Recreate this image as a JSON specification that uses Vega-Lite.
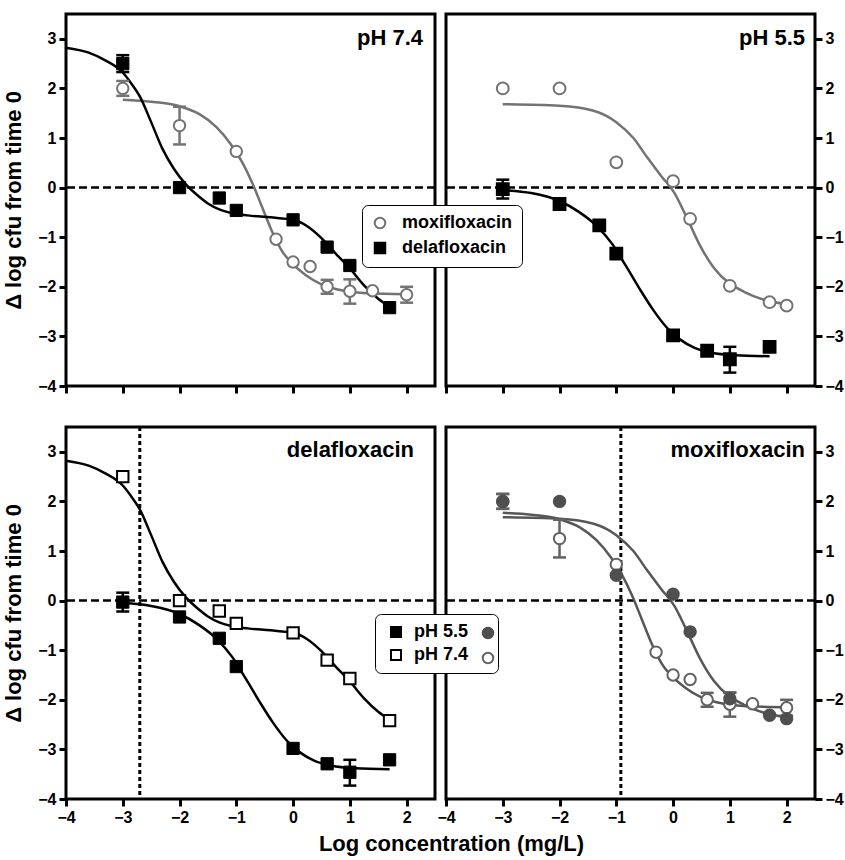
{
"$schema": "https://vega.github.io/schema/vega-lite/v6.json",
"background": "white",
"padding": {"left": 1, "top": 12, "right": 4, "bottom": 4},
"datasets": {
"obs": [
{"drug":"moxifloxacin","ph":"pH 7.4","x":-3,"y":2.0,"lo":1.85,"hi":2.15},
{"drug":"moxifloxacin","ph":"pH 7.4","x":-2,"y":1.25,"lo":0.87,"hi":1.63},
{"drug":"moxifloxacin","ph":"pH 7.4","x":-1,"y":0.73},
{"drug":"moxifloxacin","ph":"pH 7.4","x":-0.3,"y":-1.04},
{"drug":"moxifloxacin","ph":"pH 7.4","x":0,"y":-1.5},
{"drug":"moxifloxacin","ph":"pH 7.4","x":0.3,"y":-1.59},
{"drug":"moxifloxacin","ph":"pH 7.4","x":0.6,"y":-2.0,"lo":-2.14,"hi":-1.86},
{"drug":"moxifloxacin","ph":"pH 7.4","x":1,"y":-2.09,"lo":-2.34,"hi":-1.85},
{"drug":"moxifloxacin","ph":"pH 7.4","x":1.4,"y":-2.08},
{"drug":"moxifloxacin","ph":"pH 7.4","x":2,"y":-2.16,"lo":-2.32,"hi":-2.0},
{"drug":"moxifloxacin","ph":"pH 5.5","x":-3,"y":2.0,"lo":1.85,"hi":2.15},
{"drug":"moxifloxacin","ph":"pH 5.5","x":-2,"y":2.0},
{"drug":"moxifloxacin","ph":"pH 5.5","x":-1,"y":0.51},
{"drug":"moxifloxacin","ph":"pH 5.5","x":0,"y":0.13},
{"drug":"moxifloxacin","ph":"pH 5.5","x":0.3,"y":-0.63},
{"drug":"moxifloxacin","ph":"pH 5.5","x":1,"y":-1.98,"lo":-2.1,"hi":-1.86},
{"drug":"moxifloxacin","ph":"pH 5.5","x":1.7,"y":-2.31},
{"drug":"moxifloxacin","ph":"pH 5.5","x":2,"y":-2.38},
{"drug":"delafloxacin","ph":"pH 7.4","x":-3,"y":2.5,"lo":2.33,"hi":2.67},
{"drug":"delafloxacin","ph":"pH 7.4","x":-2,"y":0.0},
{"drug":"delafloxacin","ph":"pH 7.4","x":-1.3,"y":-0.21},
{"drug":"delafloxacin","ph":"pH 7.4","x":-1,"y":-0.46},
{"drug":"delafloxacin","ph":"pH 7.4","x":0,"y":-0.65},
{"drug":"delafloxacin","ph":"pH 7.4","x":0.6,"y":-1.2},
{"drug":"delafloxacin","ph":"pH 7.4","x":1,"y":-1.57},
{"drug":"delafloxacin","ph":"pH 7.4","x":1.7,"y":-2.42},
{"drug":"delafloxacin","ph":"pH 5.5","x":-3,"y":-0.03,"lo":-0.22,"hi":0.16},
{"drug":"delafloxacin","ph":"pH 5.5","x":-2,"y":-0.33},
{"drug":"delafloxacin","ph":"pH 5.5","x":-1.3,"y":-0.76},
{"drug":"delafloxacin","ph":"pH 5.5","x":-1,"y":-1.33},
{"drug":"delafloxacin","ph":"pH 5.5","x":0,"y":-2.98},
{"drug":"delafloxacin","ph":"pH 5.5","x":0.6,"y":-3.29},
{"drug":"delafloxacin","ph":"pH 5.5","x":1,"y":-3.46,"lo":-3.73,"hi":-3.21},
{"drug":"delafloxacin","ph":"pH 5.5","x":1.7,"y":-3.21}
],
"fits": [
{"drug":"delafloxacin","ph":"pH 7.4","x":-4,"y":2.82},
{"drug":"delafloxacin","ph":"pH 7.4","x":-3.6,"y":2.72},
{"drug":"delafloxacin","ph":"pH 7.4","x":-3.3,"y":2.56},
{"drug":"delafloxacin","ph":"pH 7.4","x":-3.0,"y":2.32},
{"drug":"delafloxacin","ph":"pH 7.4","x":-2.85,"y":2.1},
{"drug":"delafloxacin","ph":"pH 7.4","x":-2.7,"y":1.84},
{"drug":"delafloxacin","ph":"pH 7.4","x":-2.5,"y":1.32},
{"drug":"delafloxacin","ph":"pH 7.4","x":-2.3,"y":0.78},
{"drug":"delafloxacin","ph":"pH 7.4","x":-2.1,"y":0.38},
{"drug":"delafloxacin","ph":"pH 7.4","x":-1.9,"y":0.08},
{"drug":"delafloxacin","ph":"pH 7.4","x":-1.7,"y":-0.14},
{"drug":"delafloxacin","ph":"pH 7.4","x":-1.5,"y":-0.32},
{"drug":"delafloxacin","ph":"pH 7.4","x":-1.3,"y":-0.44},
{"drug":"delafloxacin","ph":"pH 7.4","x":-1.1,"y":-0.51},
{"drug":"delafloxacin","ph":"pH 7.4","x":-0.8,"y":-0.56},
{"drug":"delafloxacin","ph":"pH 7.4","x":-0.4,"y":-0.6},
{"drug":"delafloxacin","ph":"pH 7.4","x":0,"y":-0.65},
{"drug":"delafloxacin","ph":"pH 7.4","x":0.25,"y":-0.78},
{"drug":"delafloxacin","ph":"pH 7.4","x":0.5,"y":-1.02},
{"drug":"delafloxacin","ph":"pH 7.4","x":0.75,"y":-1.33},
{"drug":"delafloxacin","ph":"pH 7.4","x":1.0,"y":-1.63},
{"drug":"delafloxacin","ph":"pH 7.4","x":1.25,"y":-1.97},
{"drug":"delafloxacin","ph":"pH 7.4","x":1.5,"y":-2.24},
{"drug":"delafloxacin","ph":"pH 7.4","x":1.7,"y":-2.4},
{"drug":"delafloxacin","ph":"pH 5.5","x":-3,"y":-0.05},
{"drug":"delafloxacin","ph":"pH 5.5","x":-2.5,"y":-0.11},
{"drug":"delafloxacin","ph":"pH 5.5","x":-2.0,"y":-0.27},
{"drug":"delafloxacin","ph":"pH 5.5","x":-1.66,"y":-0.49},
{"drug":"delafloxacin","ph":"pH 5.5","x":-1.33,"y":-0.79},
{"drug":"delafloxacin","ph":"pH 5.5","x":-1.07,"y":-1.14},
{"drug":"delafloxacin","ph":"pH 5.5","x":-0.83,"y":-1.58},
{"drug":"delafloxacin","ph":"pH 5.5","x":-0.6,"y":-2.02},
{"drug":"delafloxacin","ph":"pH 5.5","x":-0.36,"y":-2.45},
{"drug":"delafloxacin","ph":"pH 5.5","x":-0.12,"y":-2.81},
{"drug":"delafloxacin","ph":"pH 5.5","x":0.12,"y":-3.06},
{"drug":"delafloxacin","ph":"pH 5.5","x":0.38,"y":-3.23},
{"drug":"delafloxacin","ph":"pH 5.5","x":0.68,"y":-3.33},
{"drug":"delafloxacin","ph":"pH 5.5","x":1.1,"y":-3.38},
{"drug":"delafloxacin","ph":"pH 5.5","x":1.7,"y":-3.4},
{"drug":"moxifloxacin","ph":"pH 7.4","x":-3,"y":1.77},
{"drug":"moxifloxacin","ph":"pH 7.4","x":-2.5,"y":1.73},
{"drug":"moxifloxacin","ph":"pH 7.4","x":-2.0,"y":1.64},
{"drug":"moxifloxacin","ph":"pH 7.4","x":-1.65,"y":1.48},
{"drug":"moxifloxacin","ph":"pH 7.4","x":-1.35,"y":1.22},
{"drug":"moxifloxacin","ph":"pH 7.4","x":-1.1,"y":0.88},
{"drug":"moxifloxacin","ph":"pH 7.4","x":-0.9,"y":0.52},
{"drug":"moxifloxacin","ph":"pH 7.4","x":-0.72,"y":0.1},
{"drug":"moxifloxacin","ph":"pH 7.4","x":-0.55,"y":-0.38},
{"drug":"moxifloxacin","ph":"pH 7.4","x":-0.38,"y":-0.86},
{"drug":"moxifloxacin","ph":"pH 7.4","x":-0.2,"y":-1.27},
{"drug":"moxifloxacin","ph":"pH 7.4","x":0,"y":-1.55},
{"drug":"moxifloxacin","ph":"pH 7.4","x":0.22,"y":-1.76},
{"drug":"moxifloxacin","ph":"pH 7.4","x":0.5,"y":-1.95},
{"drug":"moxifloxacin","ph":"pH 7.4","x":0.9,"y":-2.08},
{"drug":"moxifloxacin","ph":"pH 7.4","x":1.3,"y":-2.13},
{"drug":"moxifloxacin","ph":"pH 7.4","x":2.0,"y":-2.15},
{"drug":"moxifloxacin","ph":"pH 5.5","x":-3,"y":1.68},
{"drug":"moxifloxacin","ph":"pH 5.5","x":-2,"y":1.65},
{"drug":"moxifloxacin","ph":"pH 5.5","x":-1.4,"y":1.55},
{"drug":"moxifloxacin","ph":"pH 5.5","x":-1.0,"y":1.32},
{"drug":"moxifloxacin","ph":"pH 5.5","x":-0.7,"y":1.0},
{"drug":"moxifloxacin","ph":"pH 5.5","x":-0.45,"y":0.6},
{"drug":"moxifloxacin","ph":"pH 5.5","x":-0.2,"y":0.22},
{"drug":"moxifloxacin","ph":"pH 5.5","x":0.02,"y":-0.1},
{"drug":"moxifloxacin","ph":"pH 5.5","x":0.24,"y":-0.6},
{"drug":"moxifloxacin","ph":"pH 5.5","x":0.48,"y":-1.18},
{"drug":"moxifloxacin","ph":"pH 5.5","x":0.72,"y":-1.62},
{"drug":"moxifloxacin","ph":"pH 5.5","x":0.98,"y":-1.92},
{"drug":"moxifloxacin","ph":"pH 5.5","x":1.25,"y":-2.1},
{"drug":"moxifloxacin","ph":"pH 5.5","x":1.6,"y":-2.26},
{"drug":"moxifloxacin","ph":"pH 5.5","x":2.0,"y":-2.35}
]
},
"columns": 2,
"spacing": {"row": 41, "column": 11},
"bounds": "flush",
"resolve": {"scale": {"fill": "independent", "stroke": "independent", "shape": "independent"}},
"concat": [
{
"width": 369, "height": 372,
"title": {"text": "pH 7.4", "dx": -12},
"layer": [
{"data": {"values": [{}]}, "mark": {"type": "rule", "strokeDash": [8, 4], "strokeWidth": 2.5, "color": "black"},
 "encoding": {"y": {"datum": 0, "type": "quantitative", "scale": {"domain": [-4, 3.5], "nice": false}, "axis": {"orient": "left", "values": [-4,-3,-2,-1,0,1,2,3], "format": "d", "title": "Δ log cfu from time 0"}}}},
{"data": {"name": "fits"}, "transform": [{"filter": "datum.drug == 'moxifloxacin' && datum.ph == 'pH 7.4'"}],
 "mark": {"type": "line", "color": "#737373", "strokeWidth": 2.5, "interpolate": "monotone"},
 "encoding": {"x": {"field": "x", "type": "quantitative", "scale": {"domain": [-4, 2.5], "nice": false}, "axis": {"values": [-4,-3,-2,-1,0,1,2], "labels": false, "title": null}}, "y": {"field": "y", "type": "quantitative"}}},
{"data": {"name": "fits"}, "transform": [{"filter": "datum.drug == 'delafloxacin' && datum.ph == 'pH 7.4'"}],
 "mark": {"type": "line", "color": "black", "strokeWidth": 2.5, "interpolate": "monotone"},
 "encoding": {"x": {"field": "x", "type": "quantitative"}, "y": {"field": "y", "type": "quantitative"}}},
{"data": {"name": "obs"}, "transform": [{"filter": "datum.drug == 'moxifloxacin' && datum.ph == 'pH 7.4' && isValid(datum.lo)"}],
 "layer": [
  {"mark": {"type": "rule", "color": "#737373", "strokeWidth": 2.5}, "encoding": {"x": {"field": "x", "type": "quantitative"}, "y": {"field": "lo", "type": "quantitative"}, "y2": {"field": "hi"}}},
  {"mark": {"type": "tick", "orient": "horizontal", "color": "#737373", "size": 13, "thickness": 2.5, "opacity": 1}, "encoding": {"x": {"field": "x", "type": "quantitative"}, "y": {"field": "lo", "type": "quantitative"}}},
  {"mark": {"type": "tick", "orient": "horizontal", "color": "#737373", "size": 13, "thickness": 2.5, "opacity": 1}, "encoding": {"x": {"field": "x", "type": "quantitative"}, "y": {"field": "hi", "type": "quantitative"}}}
 ]},
{"data": {"name": "obs"}, "transform": [{"filter": "datum.drug == 'delafloxacin' && datum.ph == 'pH 7.4' && isValid(datum.lo)"}],
 "layer": [
  {"mark": {"type": "rule", "color": "black", "strokeWidth": 2.5}, "encoding": {"x": {"field": "x", "type": "quantitative"}, "y": {"field": "lo", "type": "quantitative"}, "y2": {"field": "hi"}}},
  {"mark": {"type": "tick", "orient": "horizontal", "color": "black", "size": 13, "thickness": 2.5, "opacity": 1}, "encoding": {"x": {"field": "x", "type": "quantitative"}, "y": {"field": "lo", "type": "quantitative"}}},
  {"mark": {"type": "tick", "orient": "horizontal", "color": "black", "size": 13, "thickness": 2.5, "opacity": 1}, "encoding": {"x": {"field": "x", "type": "quantitative"}, "y": {"field": "hi", "type": "quantitative"}}}
 ]},
{"data": {"name": "obs"}, "transform": [{"filter": "datum.drug == 'moxifloxacin' && datum.ph == 'pH 7.4'"}],
 "mark": {"type": "point", "shape": "circle", "filled": true, "fill": "white", "stroke": "#737373", "strokeWidth": 2, "size": 130, "opacity": 1},
 "encoding": {"x": {"field": "x", "type": "quantitative"}, "y": {"field": "y", "type": "quantitative"}}},
{"data": {"name": "obs"}, "transform": [{"filter": "datum.drug == 'delafloxacin' && datum.ph == 'pH 7.4'"}],
 "mark": {"type": "point", "shape": "square", "filled": true, "fill": "black", "stroke": "black", "strokeWidth": 1, "size": 150, "opacity": 1},
 "encoding": {"x": {"field": "x", "type": "quantitative"}, "y": {"field": "y", "type": "quantitative"}}}
]
},
{
"width": 369, "height": 372,
"title": {"text": "pH 5.5", "dx": -10},
"layer": [
{"data": {"values": [{}]}, "mark": {"type": "rule", "strokeDash": [8, 4], "strokeWidth": 2.5, "color": "black"},
 "encoding": {"y": {"datum": 0, "type": "quantitative", "scale": {"domain": [-4, 3.5], "nice": false}, "axis": {"orient": "right", "values": [-4,-3,-2,-1,0,1,2,3], "format": "d", "title": null}}}},
{"data": {"name": "fits"}, "transform": [{"filter": "datum.drug == 'moxifloxacin' && datum.ph == 'pH 5.5'"}],
 "mark": {"type": "line", "color": "#737373", "strokeWidth": 2.5, "interpolate": "monotone"},
 "encoding": {"x": {"field": "x", "type": "quantitative", "scale": {"domain": [-4, 2.5], "nice": false}, "axis": {"values": [-4,-3,-2,-1,0,1,2], "labels": false, "title": null}}, "y": {"field": "y", "type": "quantitative"}}},
{"data": {"name": "fits"}, "transform": [{"filter": "datum.drug == 'delafloxacin' && datum.ph == 'pH 5.5'"}],
 "mark": {"type": "line", "color": "black", "strokeWidth": 2.5, "interpolate": "monotone"},
 "encoding": {"x": {"field": "x", "type": "quantitative"}, "y": {"field": "y", "type": "quantitative"}}},
{"data": {"name": "obs"}, "transform": [{"filter": "datum.drug == 'delafloxacin' && datum.ph == 'pH 5.5' && isValid(datum.lo)"}],
 "layer": [
  {"mark": {"type": "rule", "color": "black", "strokeWidth": 2.5}, "encoding": {"x": {"field": "x", "type": "quantitative"}, "y": {"field": "lo", "type": "quantitative"}, "y2": {"field": "hi"}}},
  {"mark": {"type": "tick", "orient": "horizontal", "color": "black", "size": 13, "thickness": 2.5, "opacity": 1}, "encoding": {"x": {"field": "x", "type": "quantitative"}, "y": {"field": "lo", "type": "quantitative"}}},
  {"mark": {"type": "tick", "orient": "horizontal", "color": "black", "size": 13, "thickness": 2.5, "opacity": 1}, "encoding": {"x": {"field": "x", "type": "quantitative"}, "y": {"field": "hi", "type": "quantitative"}}}
 ]},
{"data": {"name": "obs"}, "transform": [{"filter": "datum.ph == 'pH 5.5'"}],
 "mark": {"type": "point", "filled": true, "strokeWidth": 2, "size": 140, "opacity": 1},
 "encoding": {"x": {"field": "x", "type": "quantitative"}, "y": {"field": "y", "type": "quantitative"},
  "shape": {"field": "drug", "type": "nominal", "scale": {"domain": ["moxifloxacin", "delafloxacin"], "range": ["circle", "square"]},
   "legend": {"title": null, "orient": "none", "legendX": -84, "legendY": 191, "padding": 9, "cornerRadius": 6, "strokeColor": "black", "fillColor": "white", "symbolSize": 110, "symbolStrokeWidth": 2, "labelOffset": 13, "rowPadding": 5,
    "encode": {"legend": {"strokeWidth": {"value": 2}}}}},
  "fill": {"field": "drug", "type": "nominal", "scale": {"domain": ["moxifloxacin", "delafloxacin"], "range": ["white", "black"]}},
  "stroke": {"field": "drug", "type": "nominal", "scale": {"domain": ["moxifloxacin", "delafloxacin"], "range": ["#737373", "black"]}}}}
]
},
{
"width": 369, "height": 372,
"title": {"text": "delafloxacin", "dx": -21},
"layer": [
{"data": {"values": [{}]}, "mark": {"type": "rule", "strokeDash": [8, 4], "strokeWidth": 2.5, "color": "black"},
 "encoding": {"y": {"datum": 0, "type": "quantitative", "scale": {"domain": [-4, 3.5], "nice": false}, "axis": {"orient": "left", "values": [-4,-3,-2,-1,0,1,2,3], "format": "d", "title": "Δ log cfu from time 0"}}}},
{"data": {"values": [{}]}, "mark": {"type": "rule", "strokeDash": [4, 3], "strokeWidth": 3, "color": "black"},
 "encoding": {"x": {"datum": -2.7, "type": "quantitative"}}},
{"data": {"name": "fits"}, "transform": [{"filter": "datum.drug == 'delafloxacin' && datum.ph == 'pH 7.4'"}],
 "mark": {"type": "line", "color": "black", "strokeWidth": 2.5, "interpolate": "monotone"},
 "encoding": {"x": {"field": "x", "type": "quantitative", "scale": {"domain": [-4, 2.5], "nice": false}, "axis": {"values": [-4,-3,-2,-1,0,1,2], "format": "d", "title": "Log concentration (mg/L)", "titleX": 385, "titlePadding": 8}}, "y": {"field": "y", "type": "quantitative"}}},
{"data": {"name": "fits"}, "transform": [{"filter": "datum.drug == 'delafloxacin' && datum.ph == 'pH 5.5'"}],
 "mark": {"type": "line", "color": "black", "strokeWidth": 2.5, "interpolate": "monotone"},
 "encoding": {"x": {"field": "x", "type": "quantitative"}, "y": {"field": "y", "type": "quantitative"}}},
{"data": {"name": "obs"}, "transform": [{"filter": "datum.drug == 'delafloxacin' && datum.ph == 'pH 5.5' && isValid(datum.lo)"}],
 "layer": [
  {"mark": {"type": "rule", "color": "black", "strokeWidth": 2.5}, "encoding": {"x": {"field": "x", "type": "quantitative"}, "y": {"field": "lo", "type": "quantitative"}, "y2": {"field": "hi"}}},
  {"mark": {"type": "tick", "orient": "horizontal", "color": "black", "size": 13, "thickness": 2.5, "opacity": 1}, "encoding": {"x": {"field": "x", "type": "quantitative"}, "y": {"field": "lo", "type": "quantitative"}}},
  {"mark": {"type": "tick", "orient": "horizontal", "color": "black", "size": 13, "thickness": 2.5, "opacity": 1}, "encoding": {"x": {"field": "x", "type": "quantitative"}, "y": {"field": "hi", "type": "quantitative"}}}
 ]},
{"data": {"name": "obs"}, "transform": [{"filter": "datum.drug == 'delafloxacin' && datum.ph == 'pH 5.5'"}],
 "mark": {"type": "point", "shape": "square", "filled": true, "fill": "black", "stroke": "black", "strokeWidth": 1, "size": 150, "opacity": 1},
 "encoding": {"x": {"field": "x", "type": "quantitative"}, "y": {"field": "y", "type": "quantitative"}}},
{"data": {"name": "obs"}, "transform": [{"filter": "datum.drug == 'delafloxacin' && datum.ph == 'pH 7.4'"}],
 "mark": {"type": "point", "shape": "square", "filled": true, "fill": "white", "stroke": "black", "strokeWidth": 2, "size": 130, "opacity": 1},
 "encoding": {"x": {"field": "x", "type": "quantitative"}, "y": {"field": "y", "type": "quantitative"}}}
]
},
{
"width": 369, "height": 372,
"title": {"text": "moxifloxacin", "dx": -10},
"layer": [
{"data": {"values": [{}]}, "mark": {"type": "rule", "strokeDash": [8, 4], "strokeWidth": 2.5, "color": "black"},
 "encoding": {"y": {"datum": 0, "type": "quantitative", "scale": {"domain": [-4, 3.5], "nice": false}, "axis": {"orient": "right", "values": [-4,-3,-2,-1,0,1,2,3], "format": "d", "title": null}}}},
{"data": {"values": [{}]}, "mark": {"type": "rule", "strokeDash": [4, 3], "strokeWidth": 3, "color": "black"},
 "encoding": {"x": {"datum": -0.92, "type": "quantitative"}}},
{"data": {"name": "fits"}, "transform": [{"filter": "datum.drug == 'moxifloxacin' && datum.ph == 'pH 7.4'"}],
 "mark": {"type": "line", "color": "#575757", "strokeWidth": 2.5, "interpolate": "monotone"},
 "encoding": {"x": {"field": "x", "type": "quantitative", "scale": {"domain": [-4, 2.5], "nice": false}, "axis": {"values": [-4,-3,-2,-1,0,1,2], "format": "d", "title": null}}, "y": {"field": "y", "type": "quantitative"}}},
{"data": {"name": "fits"}, "transform": [{"filter": "datum.drug == 'moxifloxacin' && datum.ph == 'pH 5.5'"}],
 "mark": {"type": "line", "color": "#575757", "strokeWidth": 2.5, "interpolate": "monotone"},
 "encoding": {"x": {"field": "x", "type": "quantitative"}, "y": {"field": "y", "type": "quantitative"}}},
{"data": {"name": "obs"}, "transform": [{"filter": "datum.drug == 'moxifloxacin' && datum.ph == 'pH 5.5' && isValid(datum.lo)"}],
 "layer": [
  {"mark": {"type": "rule", "color": "#4f4f4f", "strokeWidth": 2.5}, "encoding": {"x": {"field": "x", "type": "quantitative"}, "y": {"field": "lo", "type": "quantitative"}, "y2": {"field": "hi"}}},
  {"mark": {"type": "tick", "orient": "horizontal", "color": "#4f4f4f", "size": 13, "thickness": 2.5, "opacity": 1}, "encoding": {"x": {"field": "x", "type": "quantitative"}, "y": {"field": "lo", "type": "quantitative"}}},
  {"mark": {"type": "tick", "orient": "horizontal", "color": "#4f4f4f", "size": 13, "thickness": 2.5, "opacity": 1}, "encoding": {"x": {"field": "x", "type": "quantitative"}, "y": {"field": "hi", "type": "quantitative"}}}
 ]},
{"data": {"name": "obs"}, "transform": [{"filter": "datum.drug == 'moxifloxacin' && datum.ph == 'pH 7.4' && isValid(datum.lo)"}],
 "layer": [
  {"mark": {"type": "rule", "color": "#626262", "strokeWidth": 2.5}, "encoding": {"x": {"field": "x", "type": "quantitative"}, "y": {"field": "lo", "type": "quantitative"}, "y2": {"field": "hi"}}},
  {"mark": {"type": "tick", "orient": "horizontal", "color": "#626262", "size": 13, "thickness": 2.5, "opacity": 1}, "encoding": {"x": {"field": "x", "type": "quantitative"}, "y": {"field": "lo", "type": "quantitative"}}},
  {"mark": {"type": "tick", "orient": "horizontal", "color": "#626262", "size": 13, "thickness": 2.5, "opacity": 1}, "encoding": {"x": {"field": "x", "type": "quantitative"}, "y": {"field": "hi", "type": "quantitative"}}}
 ]},
{"data": {"name": "obs"}, "transform": [{"filter": "datum.drug == 'moxifloxacin'"}],
 "resolve": {"scale": {"fill": "independent", "stroke": "independent"}},
 "layer": [
  {"mark": {"type": "point", "shape": "square", "filled": true, "stroke": "black", "strokeWidth": 2, "size": 100, "opacity": 0},
   "encoding": {"x": {"field": "x", "type": "quantitative"}, "y": {"field": "y", "type": "quantitative"},
    "fill": {"field": "ph", "type": "nominal", "scale": {"domain": ["pH 5.5", "pH 7.4"], "range": ["black", "white"]},
     "legend": {"title": null, "orient": "none", "legendX": -71, "legendY": 187, "padding": 9, "cornerRadius": 6, "strokeColor": "black", "fillColor": "white", "symbolType": "square", "symbolSize": 100, "symbolStrokeWidth": 2, "symbolStrokeColor": "black", "symbolOpacity": 1, "symbolOffset": 3, "labelOffset": 9, "rowPadding": 5, "zindex": 1,
      "labelExpr": "datum.label + '\u00a0\u00a0\u00a0\u00a0\u200b'",
      "encode": {"legend": {"strokeWidth": {"value": 2}}}}}}},
  {"mark": {"type": "point", "shape": "circle", "filled": true, "strokeWidth": 2, "size": 130, "opacity": 1},
   "encoding": {"x": {"field": "x", "type": "quantitative"}, "y": {"field": "y", "type": "quantitative"},
    "fill": {"field": "ph", "type": "nominal", "scale": {"domain": ["pH 5.5", "pH 7.4"], "range": ["#4f4f4f", "white"]},
     "legend": {"title": null, "orient": "none", "legendX": 33, "legendY": 197, "padding": 0, "symbolType": "circle", "symbolSize": 110, "symbolStrokeWidth": 2, "labelOpacity": 0, "rowPadding": 5, "zindex": 2}},
    "stroke": {"field": "ph", "type": "nominal", "scale": {"domain": ["pH 5.5", "pH 7.4"], "range": ["#4f4f4f", "#626262"]}}}}
 ]}
]
}
],
"config": {
 "font": "Liberation Sans",
 "view": {"stroke": "black", "strokeWidth": 3},
 "axis": {"grid": false, "domain": false, "tickColor": "black", "tickWidth": 3, "tickSize": 7, "labelFont": "Liberation Sans", "labelFontSize": 16, "labelFontWeight": "bold", "labelColor": "black", "labelPadding": 3, "titleFont": "Liberation Sans", "titleFontSize": 22, "titleFontWeight": "bold", "titleColor": "black", "titlePadding": 12, "labelOverlap": false, "labelFlush": false},
 "title": {"font": "Liberation Sans", "fontSize": 22, "fontWeight": "bold", "color": "black", "anchor": "end", "frame": "group", "offset": -36},
 "legend": {"labelFont": "Liberation Sans", "labelFontSize": 18, "labelFontWeight": "bold", "labelColor": "black"}
}
}
